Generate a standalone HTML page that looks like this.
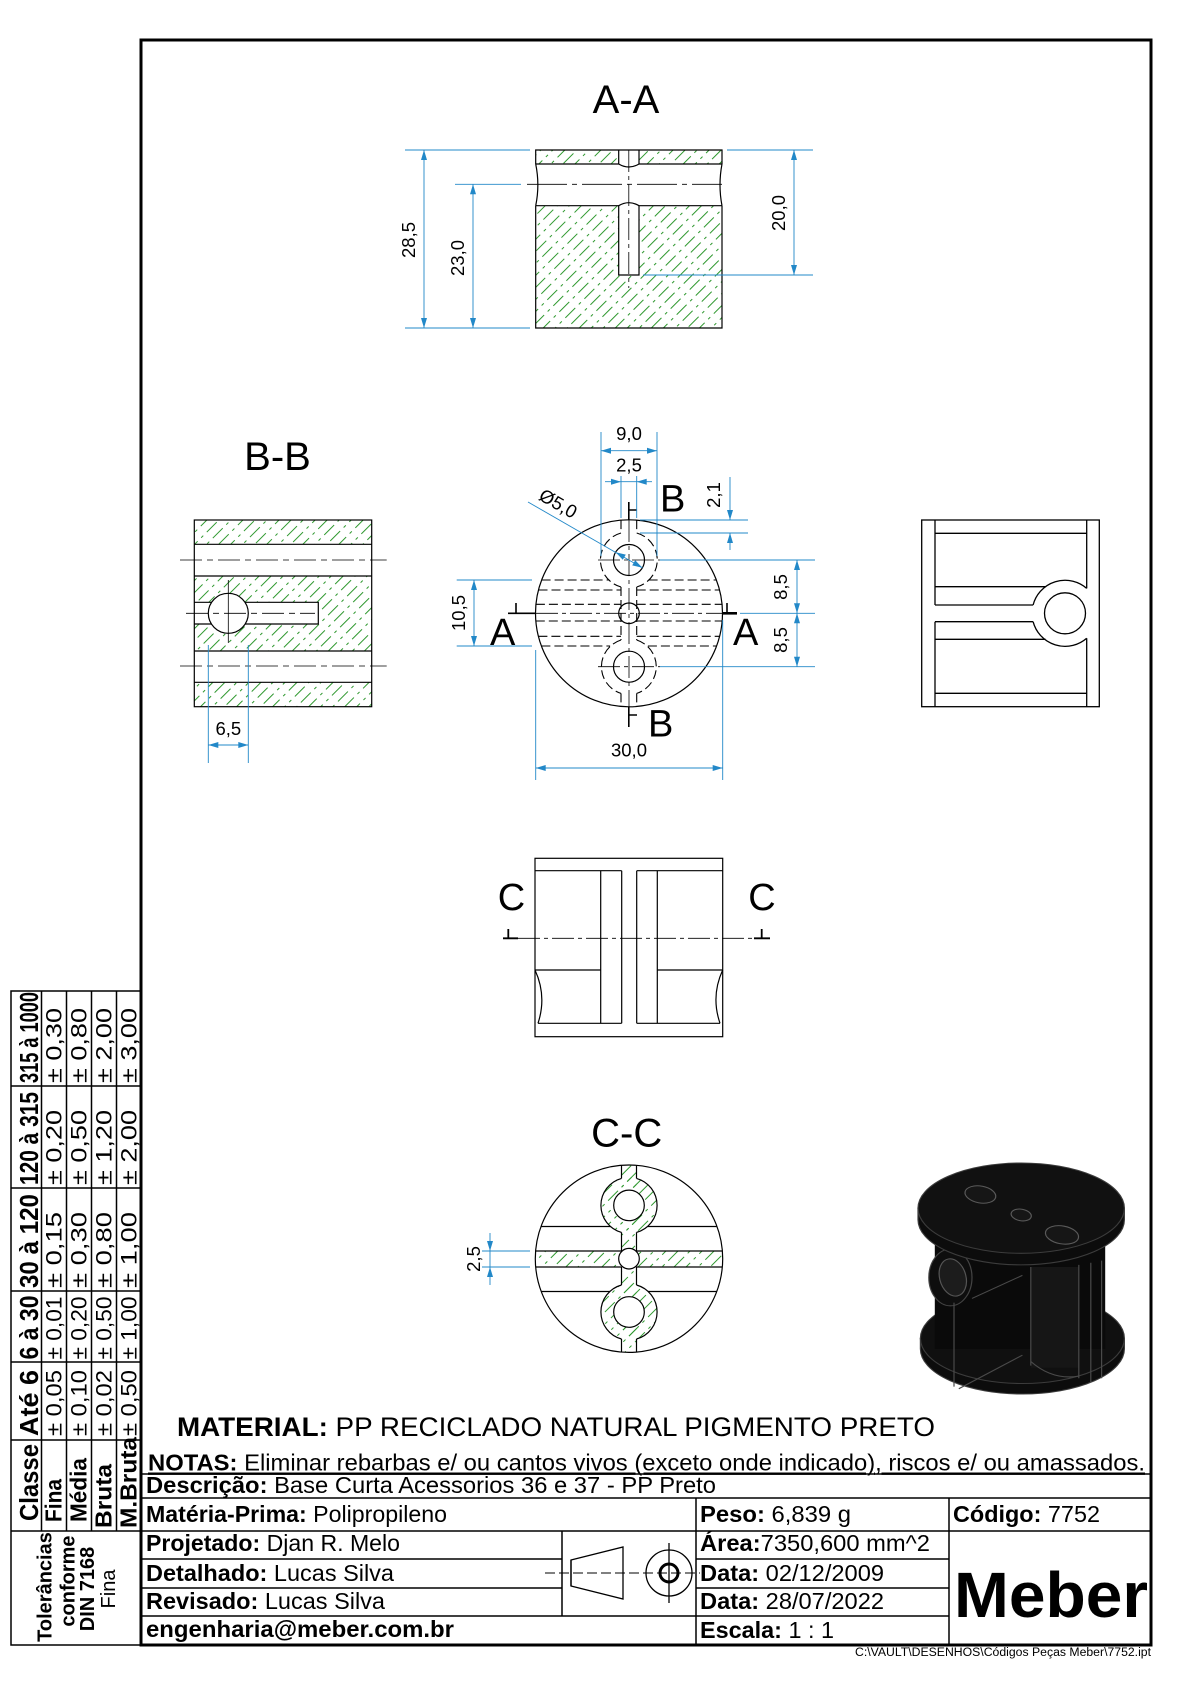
<!DOCTYPE html>
<html><head><meta charset="utf-8"><style>
html,body{margin:0;padding:0;background:#fff;}
svg{display:block;font-family:"Liberation Sans",Arial,sans-serif;}
</style></head><body>
<svg width="1190" height="1684" viewBox="0 0 1190 1684" xmlns="http://www.w3.org/2000/svg">
<defs>
<pattern id="h" patternUnits="userSpaceOnUse" width="8.5" height="27" patternTransform="rotate(45)">
<line x1="4" y1="0" x2="4" y2="27" stroke="#2f982f" stroke-width="1" stroke-dasharray="14 5 3 5"/>
</pattern>
<clipPath id="ccclip"><circle cx="629" cy="1258.7" r="93.7"/></clipPath>
</defs>
<rect width="1190" height="1684" fill="#fff"/>

<!-- main border -->
<rect x="141" y="40" width="1010" height="1605" fill="none" stroke="#000" stroke-width="3"/>

<!-- ================= A-A ================= -->
<text x="626" y="113" font-size="40" text-anchor="middle">A-A</text>
<rect x="535.7" y="150" width="186.3" height="14" fill="url(#h)"/>
<rect x="535.7" y="205.7" width="186.3" height="122.3" fill="url(#h)"/>
<rect x="618.7" y="149" width="20.3" height="16" fill="#fff"/>
<rect x="618.7" y="202" width="20.3" height="73" fill="#fff"/>
<g stroke="#000" stroke-width="1.2" fill="none">
<path d="M535.7,164 V150 H722 V164"/>
<path d="M535.7,205.7 V328 H722 V205.7"/>
<path d="M535.7,164 Q540,185 535.7,205.7"/>
<path d="M722,164 Q718,185 722,205.7"/>
<path d="M535.7,164 H618.7 Q628.8,170 639,164 H722"/>
<path d="M535.7,205.7 H618.7 Q628.8,199.7 639,205.7 H722"/>
<path d="M618.7,150 V164 M639,150 V164"/>
<path d="M618.7,205.7 V275 H639 V205.7"/>
</g>
<g stroke="#000" stroke-width="0.8" fill="none">
<path d="M527,184.3 H722" stroke-dasharray="40 5 5 5"/>
<path d="M628.8,150 V288" stroke-dasharray="22 4 4 4"/>
</g>
<g stroke="#2288c8" stroke-width="0.9" fill="none">
<path d="M405,150 H530 M405,328 H530 M424,150 V328"/>
<path d="M455,184.3 H521 M473,184.3 V328"/>
<path d="M727,150 H813 M643,275 H813 M794,150 V275"/>
</g>
<g fill="#2288c8">
<polygon points="424,150 421,160 427,160"/><polygon points="424,328 421,318 427,318"/>
<polygon points="473,184.3 470,194.3 476,194.3"/><polygon points="473,328 470,318 476,318"/>
<polygon points="794,150 791,160 797,160"/><polygon points="794,275 791,265 797,265"/>
</g>
<g font-size="18.5" text-anchor="middle">
<text transform="translate(415,240) rotate(-90)">28,5</text>
<text transform="translate(464,258) rotate(-90)">23,0</text>
<text transform="translate(785,213) rotate(-90)">20,0</text>
</g>

<!-- ================= B-B ================= -->
<text x="277.5" y="470" font-size="40" text-anchor="middle">B-B</text>
<rect x="194.3" y="520" width="177.4" height="24.3" fill="url(#h)"/>
<rect x="194.3" y="576" width="177.4" height="75" fill="url(#h)"/>
<rect x="194.3" y="682.3" width="177.4" height="24.4" fill="url(#h)"/>
<rect x="194.3" y="602.3" width="124" height="21.7" fill="#fff"/>
<circle cx="228.3" cy="613.3" r="20" fill="#fff"/>
<g stroke="#000" stroke-width="1.2" fill="none">
<rect x="194.3" y="520" width="177.4" height="186.7"/>
<path d="M194.3,544.3 H371.7 M194.3,576 H371.7 M194.3,651 H371.7 M194.3,682.3 H371.7"/>
<path d="M194.3,602.3 H211.6 M245,602.3 H318.3 V624 H245 M211.6,624 H194.3"/>
<circle cx="228.3" cy="613.3" r="20"/>
</g>
<g stroke="#000" stroke-width="0.8" fill="none">
<path d="M180,560 H386.7 M180,666 H386.7" stroke-dasharray="22 5 6 5"/>
<path d="M186,613.3 H315" stroke-dasharray="22 5 6 5"/>
<path d="M228.3,580 V643"/>
</g>
<g stroke="#2288c8" stroke-width="0.9" fill="none">
<path d="M208.3,645 V763 M248.3,645 V763 M208.3,745 H248.3"/>
</g>
<g fill="#2288c8">
<polygon points="208.3,745 218.3,742 218.3,748"/><polygon points="248.3,745 238.3,742 238.3,748"/>
</g>
<text x="228.3" y="735" font-size="18.5" text-anchor="middle">6,5</text>

<!-- ================= FRONT (top) VIEW ================= -->
<g stroke="#000" stroke-width="1.2" fill="none">
<circle cx="629" cy="613.3" r="93.5"/>
<circle cx="629" cy="560" r="15.5"/>
<circle cx="629" cy="666.7" r="15.5"/>
<circle cx="629" cy="613.3" r="10.3"/>
</g>
<g stroke="#000" stroke-width="1.1" fill="none" stroke-dasharray="9 4">
<path d="M541.6,580 H609.4 M648.6,580 H716.4"/>
<path d="M538.5,590 H621 M636.7,590 H719.5"/>
<path d="M535.9,604.3 H621 M636.7,604.3 H722.1"/>
<path d="M535.8,621 H621 M636.7,621 H722.2"/>
<path d="M538.4,636.3 H621 M636.7,636.3 H719.6"/>
<path d="M541.4,646 H610.1 M647.9,646 H716.6"/>
<path d="M621,533 A28,28 0 0 0 621,587 M636.7,533 A28,28 0 0 1 636.7,587"/>
<path d="M621,640 A28,28 0 0 0 621,693.4 M636.7,640 A28,28 0 0 1 636.7,693.4"/>
<path d="M621,520.1 V533 M636.7,520.1 V533 M621,587 V640 M636.7,587 V640 M621,693.4 V706.5 M636.7,693.4 V706.5"/>
</g>
<g stroke="#000" stroke-width="0.8" fill="none" stroke-dasharray="22 4 4 4">
<path d="M629,520 V707"/>
<path d="M536,613.3 H722"/>
<path d="M598,560 H660 M598,666.7 H660"/>
</g>
<g stroke="#000" stroke-width="1.6" fill="none">
<path d="M628.8,502 V520 M628.8,510 H637"/>
<path d="M628.8,707 V727 M628.8,715 H637"/>
<path d="M508,613.3 H536 M516,603 V613.3"/>
<path d="M737,613.3 H722.7" stroke-width="2.6"/>
<path d="M727,603 V613.3"/>
</g>
<g font-size="38">
<text x="660" y="511.7">B</text>
<text x="648" y="736.7">B</text>
<text x="490" y="645">A</text>
<text x="733" y="645">A</text>
</g>
<g stroke="#2288c8" stroke-width="0.9" fill="none">
<path d="M601,432 V556 M657,432 V556 M601,450.7 H657"/>
<path d="M621,476 V518 M636.7,476 V518 M605,481.7 H652"/>
<path d="M640,520 H748 M640,533 H748 M730,477 V520 M730,533 V550"/>
<path d="M528,502 L642.4,567.8"/>
<path d="M660,560 H815 M740,613.3 H815 M660,666.7 H815 M797,560 V666.7"/>
<path d="M456.7,580 H532 M456.7,646 H532 M474,580 V646"/>
<path d="M535.7,650 V780 M722.7,620 V780 M535.7,768 H722.7"/>
</g>
<g fill="#2288c8">
<polygon points="601,450.7 611,447.7 611,453.7"/><polygon points="657,450.7 647,447.7 647,453.7"/>
<polygon points="621,481.7 611,478.7 611,484.7"/><polygon points="636.7,481.7 646.7,478.7 646.7,484.7"/>
<polygon points="730,520 727,510 733,510"/><polygon points="730,533 727,543 733,543"/>
<polygon points="797,560 794,570 800,570"/><polygon points="797,613.3 794,603.3 800,603.3"/>
<polygon points="797,613.3 794,623.3 800,623.3"/><polygon points="797,666.7 794,656.7 800,656.7"/>
<polygon points="474,580 471,590 477,590"/><polygon points="474,646 471,636 477,636"/>
<polygon points="535.7,768 545.7,765 545.7,771"/><polygon points="722.7,768 712.7,765 712.7,771"/>
<polygon points="615.6,552.2 625.8,554.6 622.8,559.8"/><polygon points="642.4,567.8 635.2,560.2 632.2,565.4"/>
</g>
<g font-size="18.5" text-anchor="middle">
<text x="629" y="440">9,0</text>
<text x="629" y="471.5">2,5</text>
<text transform="translate(720,495) rotate(-90)">2,1</text>
<text transform="translate(555,509) rotate(30)">Ø5,0</text>
<text transform="translate(787,587) rotate(-90)">8,5</text>
<text transform="translate(787,640) rotate(-90)">8,5</text>
<text transform="translate(465,613) rotate(-90)">10,5</text>
<text x="629" y="756.7">30,0</text>
</g>

<!-- ================= RIGHT VIEW ================= -->
<g stroke="#000" stroke-width="1.3" fill="none">
<rect x="921.7" y="520" width="177.6" height="186.7"/>
<path d="M935,520 V605 M935,621.7 V706.7"/>
<path d="M1086.7,520 V588.4 M1086.7,638.2 V706.7"/>
<path d="M935,533.3 H1086.7 M935,693.3 H1086.7"/>
<path d="M935,586.7 H1045.5 M935,639.3 H1045.5"/>
<path d="M935,605 H1033.1 M935,621.7 H1033.1"/>
<path d="M1033.1,605 A33,33 0 0 1 1086.7,588.4"/>
<path d="M1033.1,621.7 A33,33 0 0 0 1086.7,638.2"/>
<circle cx="1065" cy="613.3" r="20.5"/>
</g>

<!-- ================= C VIEW ================= -->
<g stroke="#000" stroke-width="1.2" fill="none">
<rect x="535" y="858.3" width="187.7" height="178.4"/>
<path d="M535,870.7 H621.7 M636.7,870.7 H722.7"/>
<path d="M538,1023.3 H621.7 M636.7,1023.3 H720"/>
<path d="M600.7,870.7 V1023.3 M621.7,870.7 V1023.3 M636.7,870.7 V1023.3 M657.3,870.7 V1023.3"/>
<path d="M535,970 H600.7 M657.3,970 H722.7"/>
<path d="M535,970 Q547,996 538,1023.3"/>
<path d="M722.7,970 Q710.7,996 720,1023.3"/>
</g>
<path d="M518,938.3 H754" stroke="#000" stroke-width="0.8" stroke-dasharray="22 4 4 4" fill="none"/>
<g stroke="#000" stroke-width="1.8" fill="none">
<path d="M503,938.3 H518 M508.3,929 V938.3"/>
<path d="M754,938.3 H770 M761.7,929 V938.3"/>
</g>
<g font-size="38" text-anchor="middle">
<text x="511.5" y="910">C</text>
<text x="762" y="910">C</text>
</g>

<!-- ================= C-C ================= -->
<text x="626.7" y="1146.7" font-size="40" text-anchor="middle">C-C</text>
<g clip-path="url(#ccclip)" fill="url(#h)">
<rect x="621.5" y="1160" width="15" height="200"/>
<circle cx="629" cy="1205.4" r="28"/>
<circle cx="629" cy="1312" r="28"/>
<rect x="530" y="1251" width="200" height="16"/>
</g>
<circle cx="629" cy="1205.4" r="15.3" fill="#fff"/>
<circle cx="629" cy="1312" r="15.3" fill="#fff"/>
<circle cx="629" cy="1258.7" r="10.3" fill="#fff"/>
<g stroke="#000" stroke-width="1.2" fill="none">
<circle cx="629" cy="1258.7" r="93.7"/>
<path d="M541,1226.5 H610.6 M647.4,1226.5 H717 M541.2,1291.5 H609.9 M648.1,1291.5 H716.8"/>
<path d="M535.6,1251 H621.5 M636.5,1251 H722.4 M535.7,1267 H621.5 M636.5,1267 H722.3"/>
<path d="M621.5,1165.3 V1178.4 M636.5,1165.3 V1178.4 M621.5,1232.4 V1251 M636.5,1232.4 V1251 M621.5,1267 V1285 M636.5,1267 V1285 M621.5,1339 V1352.1 M636.5,1339 V1352.1"/>
<path d="M621.5,1178.4 A28,28 0 0 0 621.5,1232.4 M636.5,1178.4 A28,28 0 0 1 636.5,1232.4"/>
<path d="M621.5,1285 A28,28 0 0 0 621.5,1339 M636.5,1285 A28,28 0 0 1 636.5,1339"/>
<circle cx="629" cy="1205.4" r="15.3"/>
<circle cx="629" cy="1312" r="15.3"/>
<circle cx="629" cy="1258.7" r="10.3"/>
</g>
<g stroke="#2288c8" stroke-width="0.9" fill="none">
<path d="M482,1251 H530 M482,1267 H530 M490,1233 V1285"/>
</g>
<g fill="#2288c8">
<polygon points="490,1251 487,1241 493,1241"/><polygon points="490,1267 487,1277 493,1277"/>
</g>
<text transform="translate(480,1259) rotate(-90)" font-size="18.5" text-anchor="middle">2,5</text>

<!-- ================= 3D VIEW ================= -->
<g transform="translate(918,1163) scale(1.2,1.05) translate(-918,-1163)">
<path d="M920,1330 L920,1340 A85,43 0 0 0 1090,1340 L1090,1330 Z" fill="#0c0c0c" stroke="#3c3c3c" stroke-width="1"/>
<ellipse cx="1005" cy="1330" rx="85" ry="43" fill="#101010" stroke="#3c3c3c" stroke-width="1"/>
<rect x="932" y="1228" width="142" height="112" fill="#0a0a0a"/>
<ellipse cx="945" cy="1272" rx="18" ry="27" fill="#0e0e0e" stroke="#444" stroke-width="1"/>
<ellipse cx="947" cy="1272" rx="11" ry="18" fill="#1c1c1c" stroke="#555" stroke-width="1" transform="rotate(-12 947 1272)"/>
<path d="M918,1206 L918,1217 A86,43 0 0 0 1090,1217 L1090,1206 Z" fill="#0c0c0c" stroke="#3c3c3c" stroke-width="1"/>
<ellipse cx="1004" cy="1206" rx="86" ry="43" fill="#111" stroke="#3c3c3c" stroke-width="1"/>
<g fill="#161616" stroke="#5a5a5a" stroke-width="1">
<ellipse cx="970" cy="1193" rx="13" ry="8" transform="rotate(12 970 1193)"/>
<ellipse cx="1004" cy="1212.5" rx="8.5" ry="5.5" transform="rotate(12 1004 1212.5)"/>
<ellipse cx="1038" cy="1231.5" rx="14" ry="8.5" transform="rotate(12 1038 1231.5)"/>
</g>
<rect x="1012" y="1262" width="40" height="96" fill="#161616"/>
<g stroke="#4a4a4a" stroke-width="1" fill="none">
<path d="M948,1296 V1376"/>
<path d="M1012,1262 V1356 M1052,1260 V1368 M1062,1258 V1372 M1071,1256 V1368"/>
<path d="M952,1378 L1005,1346"/>
<path d="M1012,1352 Q1030,1370 1052,1366"/>
<path d="M963,1292 L1005,1270"/>
</g>
</g>

<!-- ================= TOLERANCE TABLE ================= -->
<g stroke="#000" stroke-width="1.5" fill="none">
<rect x="11" y="991" width="130" height="654"/>
<path d="M11,1086 H141 M11,1188 H141 M11,1291 H141 M11,1362 H141 M11,1440 H141 M11,1531 H141"/>
<path d="M41.5,991 V1531 M66.5,991 V1531 M91.5,991 V1531 M116.5,991 V1531"/>
</g>
<g font-size="26" font-weight="bold">
<text transform="translate(38,1083) rotate(-90)" textLength="91" lengthAdjust="spacingAndGlyphs">315 à 1000</text>
<text transform="translate(38,1185) rotate(-90)" textLength="93" lengthAdjust="spacingAndGlyphs">120 à 315</text>
<text transform="translate(38,1288) rotate(-90)" textLength="94" lengthAdjust="spacingAndGlyphs">30 à 120</text>
<text transform="translate(38,1359.5) rotate(-90)" textLength="64" lengthAdjust="spacingAndGlyphs">6 à 30</text>
<text transform="translate(38,1436) rotate(-90)" textLength="66" lengthAdjust="spacingAndGlyphs">Até 6</text>
<text transform="translate(38,1521) rotate(-90)" textLength="77" lengthAdjust="spacingAndGlyphs">Classe</text>
</g>
<g font-size="23.5" font-weight="bold">
<text transform="translate(61.5,1522) rotate(-90)" textLength="43" lengthAdjust="spacingAndGlyphs">Fina</text>
<text transform="translate(86.5,1522) rotate(-90)" textLength="64" lengthAdjust="spacingAndGlyphs">Média</text>
<text transform="translate(111.5,1528) rotate(-90)" textLength="64" lengthAdjust="spacingAndGlyphs">Bruta</text>
<text transform="translate(136.5,1528) rotate(-90)" textLength="91" lengthAdjust="spacingAndGlyphs">M.Bruta</text>
</g>
<g font-size="22">
<text transform="translate(61.5,1083) rotate(-90)" textLength="75" lengthAdjust="spacingAndGlyphs">± 0,30</text>
<text transform="translate(86.5,1083) rotate(-90)" textLength="75" lengthAdjust="spacingAndGlyphs">± 0,80</text>
<text transform="translate(111.5,1083) rotate(-90)" textLength="75" lengthAdjust="spacingAndGlyphs">± 2,00</text>
<text transform="translate(136.5,1083) rotate(-90)" textLength="75" lengthAdjust="spacingAndGlyphs">± 3,00</text>
<text transform="translate(61.5,1185) rotate(-90)" textLength="75" lengthAdjust="spacingAndGlyphs">± 0,20</text>
<text transform="translate(86.5,1185) rotate(-90)" textLength="75" lengthAdjust="spacingAndGlyphs">± 0,50</text>
<text transform="translate(111.5,1185) rotate(-90)" textLength="75" lengthAdjust="spacingAndGlyphs">± 1,20</text>
<text transform="translate(136.5,1185) rotate(-90)" textLength="75" lengthAdjust="spacingAndGlyphs">± 2,00</text>
<text transform="translate(61.5,1288) rotate(-90)" textLength="76" lengthAdjust="spacingAndGlyphs">± 0,15</text>
<text transform="translate(86.5,1288) rotate(-90)" textLength="76" lengthAdjust="spacingAndGlyphs">± 0,30</text>
<text transform="translate(111.5,1288) rotate(-90)" textLength="76" lengthAdjust="spacingAndGlyphs">± 0,80</text>
<text transform="translate(136.5,1288) rotate(-90)" textLength="76" lengthAdjust="spacingAndGlyphs">± 1,00</text>
<text transform="translate(61.5,1359.5) rotate(-90)" textLength="63" lengthAdjust="spacingAndGlyphs">± 0,01</text>
<text transform="translate(86.5,1359.5) rotate(-90)" textLength="63" lengthAdjust="spacingAndGlyphs">± 0,20</text>
<text transform="translate(111.5,1359.5) rotate(-90)" textLength="63" lengthAdjust="spacingAndGlyphs">± 0,50</text>
<text transform="translate(136.5,1359.5) rotate(-90)" textLength="63" lengthAdjust="spacingAndGlyphs">± 1,00</text>
<text transform="translate(61.5,1436) rotate(-90)" textLength="66" lengthAdjust="spacingAndGlyphs">± 0,05</text>
<text transform="translate(86.5,1436) rotate(-90)" textLength="66" lengthAdjust="spacingAndGlyphs">± 0,10</text>
<text transform="translate(111.5,1436) rotate(-90)" textLength="66" lengthAdjust="spacingAndGlyphs">± 0,02</text>
<text transform="translate(136.5,1436) rotate(-90)" textLength="66" lengthAdjust="spacingAndGlyphs">± 0,50</text>
</g>
<g font-size="20" text-anchor="middle">
<text transform="translate(51.5,1587) rotate(-90)" font-weight="bold">Tolerâncias</text>
<text transform="translate(74.5,1581) rotate(-90)" font-weight="bold">conforme</text>
<text transform="translate(93.8,1589) rotate(-90)" font-weight="bold">DIN 7168</text>
<text transform="translate(114.8,1589) rotate(-90)">Fina</text>
</g>

<!-- ================= TITLE BLOCK ================= -->
<text x="177" y="1436" font-size="27" textLength="758" lengthAdjust="spacingAndGlyphs"><tspan font-weight="bold">MATERIAL:</tspan> PP RECICLADO NATURAL PIGMENTO PRETO</text>
<text x="148" y="1470.5" font-size="23.5" textLength="997" lengthAdjust="spacingAndGlyphs" text-decoration="underline"><tspan font-weight="bold">NOTAS:</tspan> Eliminar rebarbas e/ ou cantos vivos (exceto onde indicado), riscos e/ ou amassados.</text>
<g stroke="#000" stroke-width="1.5" fill="none">
<path d="M141,1474 H1151 M141,1498 H1151 M141,1531 H1151"/>
<path d="M141,1559 H562 M696,1559 H949 M141,1588 H562 M696,1588 H949 M141,1616 H949"/>
<path d="M562,1531 V1616 M696,1498 V1645 M949,1498 V1645"/>
</g>
<g font-size="23.5">
<text x="146" y="1493" textLength="570" lengthAdjust="spacingAndGlyphs"><tspan font-weight="bold">Descrição:</tspan> Base Curta Acessorios 36 e 37 - PP Preto</text>
<text x="146" y="1522" textLength="301" lengthAdjust="spacingAndGlyphs"><tspan font-weight="bold">Matéria-Prima:</tspan> Polipropileno</text>
<text x="700" y="1522" textLength="151" lengthAdjust="spacingAndGlyphs"><tspan font-weight="bold">Peso:</tspan> 6,839 g</text>
<text x="953" y="1522" textLength="147" lengthAdjust="spacingAndGlyphs"><tspan font-weight="bold">Código:</tspan> 7752</text>
<text x="146" y="1551" textLength="254" lengthAdjust="spacingAndGlyphs"><tspan font-weight="bold">Projetado:</tspan> Djan R. Melo</text>
<text x="700" y="1551" textLength="230" lengthAdjust="spacingAndGlyphs"><tspan font-weight="bold">Área:</tspan>7350,600 mm^2</text>
<text x="146" y="1581" textLength="248" lengthAdjust="spacingAndGlyphs"><tspan font-weight="bold">Detalhado:</tspan> Lucas Silva</text>
<text x="700" y="1581" textLength="184" lengthAdjust="spacingAndGlyphs"><tspan font-weight="bold">Data:</tspan> 02/12/2009</text>
<text x="146" y="1609" textLength="239" lengthAdjust="spacingAndGlyphs"><tspan font-weight="bold">Revisado:</tspan> Lucas Silva</text>
<text x="700" y="1609" textLength="184" lengthAdjust="spacingAndGlyphs"><tspan font-weight="bold">Data:</tspan> 28/07/2022</text>
<text x="146" y="1637" font-weight="bold" textLength="308" lengthAdjust="spacingAndGlyphs">engenharia@meber.com.br</text>
<text x="700" y="1638" textLength="134" lengthAdjust="spacingAndGlyphs"><tspan font-weight="bold">Escala:</tspan> 1 : 1</text>
</g>
<text x="954" y="1617" font-size="64" font-weight="bold" textLength="194" lengthAdjust="spacingAndGlyphs">Meber</text>

<!-- projection symbol -->
<g stroke="#000" stroke-width="1.3" fill="none">
<polygon points="571,1560 623,1547 623,1599 571,1586"/>
<path d="M545,1573 H700" stroke-dasharray="10 4" stroke-width="1"/>
<circle cx="669" cy="1573" r="23"/>
<circle cx="669" cy="1573" r="9" stroke-width="3"/>
<path d="M669,1543 V1603"/>
<path d="M571,1560 V1586"/>
</g>

<text x="1151" y="1656" font-size="11.5" text-anchor="end" textLength="296" lengthAdjust="spacingAndGlyphs">C:\VAULT\DESENHOS\Códigos Peças Meber\7752.ipt</text>
</svg>
</body></html>
